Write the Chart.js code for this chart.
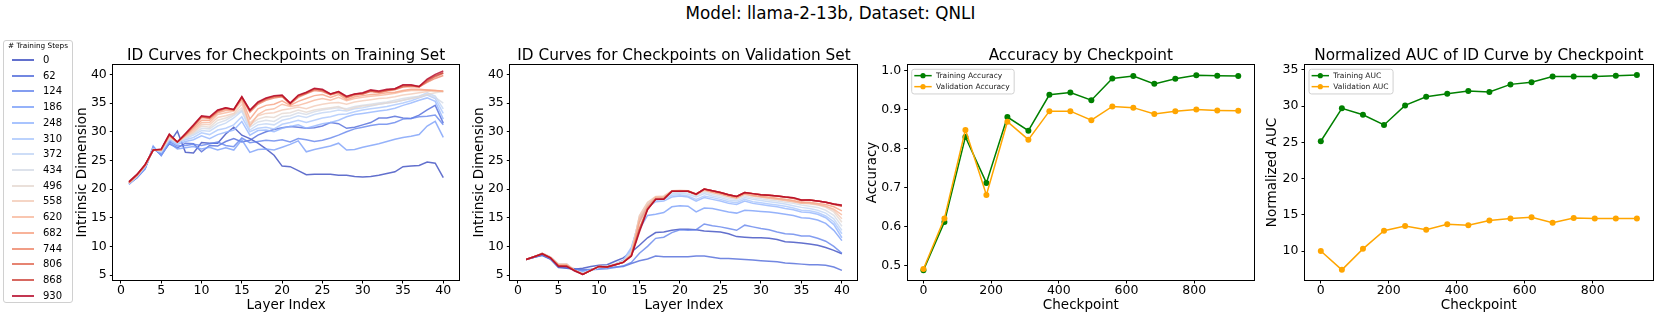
<!DOCTYPE html>
<html><head><meta charset="utf-8">
<script src="https://cdn.jsdelivr.net/npm/chart.js@4.4.1/dist/chart.umd.min.js"></script>
<style>
html,body{margin:0;padding:0;background:#fff}
body{width:1661px;height:332px;overflow:hidden;position:relative;font-family:"DejaVu Sans",sans-serif;color:#000}
canvas{position:absolute;top:0}
#sup{position:absolute;left:0;top:4px;width:1661px;text-align:center;font-size:16.8px;line-height:19px;white-space:nowrap}
#leg{position:absolute;left:3px;top:40px;width:70px;height:263px;border:1px solid #d0d0d0;border-radius:3px;box-sizing:border-box;background:#fff}
.lt{position:absolute;left:0;width:76px;text-align:center;font-size:7.3px;line-height:9px;white-space:nowrap}
.ll{position:absolute;left:12px;width:21.5px;height:2px}
.lx{position:absolute;left:43px;font-size:10px;line-height:12px;white-space:nowrap}
</style>
</head><body>
<div id="sup">Model: llama-2-13b, Dataset: QNLI</div>
<div id="leg"></div>
<canvas id="c1" width="400" height="332" style="left:60px"></canvas>
<canvas id="c2" width="402" height="332" style="left:460px"></canvas>
<canvas id="c3" width="396" height="332" style="left:862px"></canvas>
<canvas id="c4" width="403" height="332" style="left:1258px"></canvas>
<script>
// ---------------- data ----------------
const layers = [1,2,3,4,5,6,7,8,9,10,11,12,13,14,15,16,17,18,19,20,21,22,23,24,25,26,27,28,29,30,31,32,33,34,35,36,37,38,39,40];
const steps = [0,62,124,186,248,310,372,434,496,558,620,682,744,806,868,930];
const stepColors = ['#3b4cc0','#4f69d9','#6485ec','#7b9ff9','#93b5fe','#aac7fd','#c0d4f5','#d4dbe6','#e5d8d1','#f2cbb7','#f7b89c','#f6a081','#ee8468','#e0654f','#cd4239','#b40426'];

const idTicksX = [0,5,10,15,20,25,30,35,40];
const idTicksY = [5,10,15,20,25,30,35,40];
const ckptTicksX = [0,200,400,600,800];
const accTicksY = [0.5,0.6,0.7,0.8,0.9,1.0];
const aucTicksY = [10,15,20,25,30,35];

// ID curves on training set (one list per checkpoint)
const train0   = [21.0,22.0,23.6,27.3,25.9,28.0,30.1,26.4,26.3,28.1,28.0,28.0,29.6,30.8,29.4,28.8,28.0,27.0,25.9,24.0,23.9,23.2,22.5,22.6,22.6,22.6,22.4,22.4,22.2,22.1,22.2,22.4,22.7,23.0,23.9,24.0,24.1,24.7,24.5,22.0];
const train62  = [21.0,22.1,23.7,27.0,26.1,27.9,27.2,28.0,27.9,26.5,27.6,27.5,28.3,28.8,28.2,28.5,29.4,30.0,30.4,30.7,30.9,30.8,30.6,30.7,31.0,31.6,31.4,30.6,30.8,31.2,31.6,32.4,32.4,32.7,32.4,32.3,32.9,33.8,34.6,31.5];
const train124 = [20.9,22.1,23.6,27.2,26.0,28.3,27.5,27.6,27.8,27.6,27.9,28.2,27.6,27.4,28.9,28.1,28.3,28.5,28.4,28.6,28.2,28.8,28.6,28.3,28.5,28.9,29.4,30.0,30.5,30.8,31.1,31.3,31.3,31.6,32.2,32.3,32.6,32.7,32.9,31.2];
const train186 = [20.8,22.0,23.5,27.5,25.8,28.1,27.0,27.2,27.4,27.0,27.3,26.8,27.2,26.8,28.6,26.4,26.9,27.0,26.8,27.3,27.8,28.4,26.5,26.9,27.2,27.5,28.0,26.8,26.9,27.3,27.6,27.9,28.3,28.7,29.0,29.2,29.5,31.0,31.8,29.0];
const train248 = [20.9,22.2,23.8,27.0,26.3,28.5,27.8,28.3,28.6,29.3,28.8,29.5,29.9,30.3,31.8,29.4,30.2,30.3,30.0,30.6,30.9,31.2,30.6,31.0,31.4,31.6,32.0,32.6,33.0,33.2,33.4,33.6,33.8,34.1,34.6,35.0,35.5,35.9,35.3,32.2];
const train310 = [21.0,22.2,23.9,27.1,26.4,28.6,28.0,28.6,29.0,29.8,29.5,30.3,30.6,31.2,32.6,30.0,30.6,30.8,30.5,31.3,31.6,32.0,31.6,32.0,32.4,32.6,33.0,33.1,33.5,33.8,34.0,34.2,34.4,34.7,35.0,35.4,35.9,36.4,35.8,33.2];
const train372 = [21.0,22.3,24.0,27.0,26.5,28.8,28.1,28.8,29.4,30.2,30.1,31.0,31.5,32.4,33.6,30.3,31.2,31.4,31.2,32.0,32.3,32.8,32.5,33.0,33.3,33.5,33.8,33.6,34.0,34.2,34.5,34.8,35.0,35.2,35.5,35.8,36.2,36.8,36.2,34.0];
const train434 = [21.0,22.3,24.0,26.9,26.6,28.9,28.2,29.0,29.6,30.6,30.5,31.5,32.0,32.8,33.8,30.8,31.7,32.0,31.8,32.6,32.8,33.3,33.0,33.5,33.8,34.0,34.2,34.0,34.4,34.6,34.8,35.0,35.2,35.5,35.8,36.0,36.2,36.5,36.0,35.0];
const train496 = [21.0,22.3,24.0,26.8,26.7,29.0,28.2,29.1,29.8,31.0,30.8,32.0,32.4,33.0,34.2,31.2,32.2,32.6,32.5,33.2,33.3,33.8,33.4,33.8,34.0,34.2,34.4,33.8,34.2,34.5,34.6,34.8,35.0,35.2,35.5,35.8,36.0,36.5,36.8,37.0];
const train558 = [21.0,22.3,24.1,26.8,26.8,29.1,28.2,29.2,30.0,31.3,31.2,32.5,32.8,33.2,34.8,31.5,32.8,33.2,33.3,33.8,34.0,34.3,34.0,34.5,34.8,35.0,35.1,34.8,35.2,35.4,35.6,35.8,35.9,36.1,36.4,36.6,36.8,37.0,37.1,37.0];
const train620 = [21.1,22.4,24.1,26.8,26.8,29.2,28.2,29.3,30.3,31.6,31.6,33.0,33.3,33.6,35.4,31.0,33.0,33.8,34.0,34.8,34.4,34.6,35.0,35.5,35.8,35.5,36.0,35.4,35.8,36.0,36.2,36.3,36.5,36.7,37.0,37.2,37.2,37.3,37.2,37.0];
const train682 = [21.1,22.4,24.2,26.8,26.8,29.3,28.2,29.4,30.6,32.0,32.0,33.3,33.7,33.8,35.7,32.2,34.0,34.6,34.8,35.4,34.6,35.3,35.8,36.3,36.5,36.0,36.5,35.6,36.1,36.3,36.5,36.6,36.8,36.9,37.2,37.4,37.4,37.3,37.2,37.1];
const train744 = [21.2,22.5,24.2,26.8,26.9,29.4,28.2,29.5,30.9,32.5,32.3,33.5,34.0,33.8,35.9,33.4,34.8,35.5,35.9,36.1,34.8,36.0,36.6,37.2,37.0,36.4,36.8,35.9,36.4,36.6,37.0,36.8,37.1,37.3,37.8,37.9,37.8,38.6,39.3,39.8];
const train806 = [21.2,22.5,24.2,26.8,26.9,29.5,28.2,29.5,31.0,32.6,32.4,33.6,34.1,33.8,36.0,33.6,35.0,35.7,36.1,36.2,34.9,36.2,36.7,37.4,37.2,36.5,36.9,36.0,36.5,36.6,37.1,36.9,37.2,37.4,37.9,38.0,37.8,38.8,39.6,40.2];
const train868 = [21.2,22.5,24.2,26.8,26.9,29.5,28.2,29.6,31.1,32.7,32.5,33.7,34.2,33.9,36.1,33.7,35.1,35.8,36.2,36.3,35.0,36.3,36.8,37.5,37.3,36.6,37.0,36.1,36.6,36.7,37.2,37.0,37.3,37.5,38.1,38.1,37.9,39.0,39.8,40.3];
const train930 = [21.3,22.6,24.3,26.8,27.0,29.6,28.2,29.7,31.2,32.8,32.6,33.8,34.2,33.9,36.1,33.8,35.2,35.9,36.3,36.4,35.0,36.4,36.9,37.6,37.4,36.6,37.0,36.2,36.6,36.8,37.3,37.1,37.4,37.5,38.2,38.2,37.9,39.2,40.0,40.6];

// ID curves on validation set
const val0   = [7.7,8.1,8.5,7.8,6.3,6.2,6.0,6.2,6.5,6.7,6.8,7.4,8.0,9.0,10.2,11.5,12.4,12.5,12.8,13.0,13.0,12.9,12.7,12.6,12.5,12.2,11.7,11.6,11.5,11.5,11.4,11.2,10.8,10.7,10.6,10.4,10.2,9.8,9.3,8.7];
const val62  = [7.7,8.1,8.4,7.8,6.4,6.3,6.1,5.9,6.0,6.2,6.3,6.4,6.5,7.0,7.5,7.8,8.3,8.2,8.2,8.2,8.2,8.3,8.3,8.1,7.9,7.9,7.8,7.7,7.6,7.5,7.4,7.3,7.1,7.0,6.9,6.8,6.8,6.7,6.4,5.8];
const val124 = [7.7,8.1,8.6,7.9,6.5,6.4,5.9,5.8,5.9,6.0,6.1,6.3,6.6,7.2,8.8,10.0,11.4,11.6,12.4,12.9,12.8,12.9,13.9,13.6,13.4,13.1,12.8,13.7,13.4,13.1,12.9,12.5,12.2,12.1,11.8,11.8,11.4,10.9,10.0,8.8];
const val186 = [7.7,8.2,8.7,8.0,6.6,6.6,5.8,5.6,5.9,6.2,6.4,6.8,7.5,9.5,13.0,15.4,15.6,15.9,16.9,17.1,17.0,16.0,16.7,16.6,16.3,16.0,15.8,16.3,16.2,16.1,16.0,15.8,15.6,15.4,15.0,14.9,14.6,14.0,12.8,11.0];
const val248 = [7.7,8.2,8.8,8.1,6.8,6.8,5.7,5.4,5.8,6.3,6.5,6.9,7.6,9.8,14.5,16.8,17.8,17.9,18.6,18.8,18.6,17.9,18.5,18.2,17.9,17.5,17.3,17.9,17.5,17.3,17.1,16.9,16.6,16.4,16.0,15.9,15.6,15.0,13.8,11.5];
const val310 = [7.7,8.2,8.8,8.1,6.8,6.8,5.7,5.4,5.8,6.3,6.5,6.9,7.5,9.5,14.8,17.0,18.0,18.2,18.9,19.0,18.8,18.2,18.8,18.5,18.2,17.8,17.6,18.2,17.8,17.6,17.4,17.2,17.0,16.7,16.3,16.2,15.9,15.3,14.3,12.2];
const val372 = [7.7,8.2,8.8,8.1,6.9,6.9,5.8,5.3,5.8,6.4,6.5,6.9,7.4,9.2,15.0,17.3,18.3,18.4,19.2,19.3,19.1,18.6,19.2,18.8,18.5,18.1,17.9,18.5,18.2,18.0,17.8,17.6,17.4,17.1,16.8,16.6,16.3,15.8,14.8,12.8];
const val434 = [7.7,8.2,8.8,8.1,6.9,6.9,5.8,5.3,5.8,6.4,6.5,6.9,7.3,9.0,15.2,17.5,18.5,18.6,19.4,19.5,19.4,18.9,19.5,19.1,18.8,18.4,18.2,18.8,18.5,18.3,18.1,17.9,17.7,17.5,17.2,17.0,16.8,16.3,15.4,13.5];
const val496 = [7.7,8.2,8.8,8.1,6.9,6.9,5.8,5.2,5.8,6.5,6.5,6.9,7.3,8.8,15.3,17.6,18.6,18.7,19.6,19.7,19.6,19.1,19.8,19.4,19.1,18.7,18.5,19.1,18.8,18.6,18.4,18.2,18.0,17.8,17.5,17.4,17.2,16.8,16.0,14.2];
const val558 = [7.7,8.2,8.8,8.1,6.9,6.9,5.8,5.2,5.8,6.5,6.5,6.9,7.3,8.7,15.4,17.7,18.7,18.8,19.7,19.8,19.7,19.2,19.9,19.5,19.2,18.8,18.6,19.2,18.9,18.7,18.5,18.3,18.1,17.9,17.6,17.5,17.3,17.0,16.3,14.8];
const val620 = [7.7,8.2,8.8,8.1,6.8,6.8,5.8,5.2,5.8,6.5,6.4,6.8,7.2,8.6,14.8,17.2,18.6,18.6,19.6,19.7,19.6,19.0,19.8,19.4,19.1,18.7,18.4,19.1,18.8,18.6,18.4,18.2,18.0,17.8,17.5,17.5,17.3,17.0,16.5,15.5];
const val682 = [7.7,8.2,8.8,8.1,6.7,6.7,5.8,5.1,5.8,6.5,6.4,6.8,7.2,8.5,14.2,16.9,18.4,18.5,19.6,19.6,19.6,19.0,19.9,19.5,19.2,18.8,18.5,19.2,18.9,18.7,18.6,18.4,18.2,18.0,17.7,17.7,17.5,17.3,16.9,16.2];
const val744 = [7.7,8.2,8.7,8.0,6.6,6.6,5.8,5.1,5.8,6.5,6.4,6.8,7.2,8.4,13.2,16.6,18.2,18.3,19.6,19.6,19.6,19.1,20.0,19.7,19.4,19.0,18.7,19.4,19.2,19.0,18.9,18.8,18.6,18.4,18.0,18.1,17.9,17.7,17.4,17.1];
const val806 = [7.7,8.2,8.7,8.0,6.6,6.6,5.8,5.1,5.8,6.5,6.4,6.8,7.2,8.4,13.0,16.5,18.2,18.3,19.6,19.6,19.7,19.1,20.0,19.7,19.4,19.0,18.7,19.4,19.2,19.0,18.9,18.8,18.6,18.4,18.0,18.1,17.9,17.7,17.3,17.0];
const val868 = [7.7,8.2,8.7,8.0,6.6,6.5,5.8,5.1,5.8,6.5,6.4,6.8,7.2,8.3,12.8,16.5,18.2,18.2,19.6,19.6,19.6,19.1,20.0,19.7,19.4,19.0,18.7,19.4,19.2,19.0,18.9,18.8,18.6,18.5,18.1,18.1,17.9,17.7,17.4,17.1];
const val930 = [7.7,8.2,8.7,8.0,6.5,6.5,5.7,5.1,5.8,6.5,6.4,6.8,7.2,8.3,12.5,16.4,18.2,18.2,19.6,19.6,19.6,19.1,20.0,19.7,19.4,19.0,18.7,19.4,19.2,19.0,18.9,18.8,18.6,18.5,18.1,18.1,17.9,17.7,17.4,17.2];

// accuracy and AUC by checkpoint
const trainAcc = [0.488,0.612,0.830,0.712,0.881,0.846,0.938,0.944,0.924,0.980,0.986,0.966,0.979,0.988,0.987,0.986];
const valAcc   = [0.491,0.621,0.848,0.681,0.869,0.823,0.896,0.896,0.873,0.908,0.905,0.889,0.896,0.900,0.898,0.897];
const trainAUC = [25.15,29.7,28.8,27.4,30.1,31.3,31.7,32.1,31.95,33.0,33.3,34.1,34.1,34.1,34.2,34.3];
const valAUC   = [10.0,7.4,10.3,12.8,13.45,12.95,13.7,13.55,14.2,14.5,14.65,13.9,14.55,14.5,14.5,14.5];

const trainCurves = [train0,train62,train124,train186,train248,train310,train372,train434,train496,train558,train620,train682,train744,train806,train868,train930];
const valCurves = [val0,val62,val124,val186,val248,val310,val372,val434,val496,val558,val620,val682,val744,val806,val868,val930];

// ---------------- helpers ----------------
function rgba(hex,a){const n=parseInt(hex.slice(1),16);return `rgba(${n>>16},${(n>>8)&255},${n&255},${a})`;}
const LINE_ALPHA = 0.8;

// left legend (HTML)
(function(){
  const body=document.body;
  const t=document.createElement('div');t.className='lt';t.style.top='41px';t.textContent='# Training Steps';body.appendChild(t);
  steps.forEach((s,i)=>{
    const y=60+i*15.71;
    const l=document.createElement('div');l.className='ll';l.style.top=(y-1)+'px';l.style.background=rgba(stepColors[i],LINE_ALPHA);body.appendChild(l);
    const x=document.createElement('div');x.className='lx';x.style.top=(y-6)+'px';x.textContent=String(s);body.appendChild(x);
  });
})();

Chart.defaults.font.family='"DejaVu Sans", sans-serif';
Chart.defaults.color='#000';

// spines + inline legend (matplotlib style)
const framePlugin={
  id:'frame',
  afterDraw(chart,args,opts){
    const a=chart.chartArea, ctx=chart.ctx;
    if(opts && opts.legend){
      const ds=chart.data.datasets;
      ctx.save();
      ctx.font='7.5px "DejaVu Sans", sans-serif';
      let tw=0; ds.forEach(d=>{tw=Math.max(tw,ctx.measureText(d.label).width);});
      const x0=a.left+4, y0=a.top+4.3, x1=x0+24.3+tw+4.5, y1=a.top+29;
      const r=2.5;
      ctx.beginPath();
      ctx.moveTo(x0+r,y0);ctx.lineTo(x1-r,y0);ctx.quadraticCurveTo(x1,y0,x1,y0+r);ctx.lineTo(x1,y1-r);ctx.quadraticCurveTo(x1,y1,x1-r,y1);
      ctx.lineTo(x0+r,y1);ctx.quadraticCurveTo(x0,y1,x0,y1-r);ctx.lineTo(x0,y0+r);ctx.quadraticCurveTo(x0,y0,x0+r,y0);ctx.closePath();
      ctx.fillStyle='rgba(255,255,255,0.8)';ctx.fill();ctx.strokeStyle='#d0d0d0';ctx.lineWidth=1;ctx.stroke();
      ds.forEach((d,i)=>{
        const y=a.top+10.7+i*11;
        ctx.strokeStyle=d.borderColor;ctx.lineWidth=1.5;ctx.beginPath();ctx.moveTo(x0+2.6,y);ctx.lineTo(x0+20,y);ctx.stroke();
        ctx.fillStyle=d.borderColor;ctx.beginPath();ctx.arc(x0+11.3,y,2.6,0,Math.PI*2);ctx.fill();
        ctx.fillStyle='#222';ctx.textBaseline='middle';ctx.textAlign='left';ctx.fillText(d.label,x0+24.3,y);
      });
      ctx.restore();
    }
    ctx.save();ctx.strokeStyle='#000';ctx.lineWidth=1;
    ctx.strokeRect(Math.round(a.left)+0.5-1,Math.round(a.top)+0.5-1,Math.round(a.right-a.left)+1,Math.round(a.bottom-a.top)+1);
    ctx.restore();
  }
};

function makeChart(id,cfg){
  const tickFont={size:12.5};
  const grid={display:true,drawOnChartArea:false,drawTicks:true,tickLength:3.5,color:'#000',lineWidth:1};
  return new Chart(document.getElementById(id),{
    type:'line',
    data:{labels:cfg.labels,datasets:cfg.datasets},
    options:{
      responsive:false,animation:false,events:[],
      layout:{padding:{top:46.6,left:0,right:cfg.rightPad,bottom:0}},
      plugins:{
        title:{display:true,text:cfg.title,fullSize:false,font:{size:15.3,weight:'normal',lineHeight:1.2},padding:{top:0,bottom:0},color:'#000'},
        legend:{display:false},
        tooltip:{enabled:false},
        frame:{legend:!!cfg.legend}
      },
      scales:{
        x:{type:'linear',min:cfg.xmin,max:cfg.xmax,
           afterFit(s){s.height=52;},
           afterBuildTicks(s){s.ticks=cfg.xticks.map(v=>({value:v}));},
           ticks:{font:tickFont,padding:0,maxRotation:0,autoSkip:false,color:'#000'},
           grid:grid,border:{display:false},
           title:{display:true,text:cfg.xtitle,font:{size:13.5,lineHeight:1.2},padding:{top:0,bottom:18},color:'#000'}},
        y:{type:'linear',min:cfg.ymin,max:cfg.ymax,
           afterFit(s){s.width=cfg.yW;},
           afterBuildTicks(s){s.ticks=cfg.yticks.map(v=>({value:v}));},
           ticks:{font:tickFont,padding:3,autoSkip:false,color:'#000',callback:cfg.yfmt||(v=>String(v))},
           grid:grid,border:{display:false},
           title:{display:true,text:cfg.ytitle,font:{size:13.5,lineHeight:1.2},padding:{top:cfg.yTitlePad,bottom:0},color:'#000'}}
      }
    },
    plugins:[framePlugin]
  });
}

function idDatasets(curves){
  return curves.map((d,i)=>({label:String(steps[i]),data:d,borderColor:rgba(stepColors[i],LINE_ALPHA),borderWidth:1.5,pointRadius:0,tension:0,fill:false,order:curves.length-1-i}));
}

makeChart('c1',{labels:layers,datasets:idDatasets(trainCurves),title:'ID Curves for Checkpoints on Training Set',
  xmin:-0.95,xmax:41.95,ymin:4.13,ymax:41.65,xticks:idTicksX,yticks:idTicksY,xtitle:'Layer Index',ytitle:'Intrinsic Dimension',
  yW:53.3,yTitlePad:14.4,rightPad:400-53.3-345.7});
makeChart('c2',{labels:layers,datasets:idDatasets(valCurves),title:'ID Curves for Checkpoints on Validation Set',
  xmin:-0.95,xmax:41.95,ymin:4.13,ymax:41.65,xticks:idTicksX,yticks:idTicksY,xtitle:'Layer Index',ytitle:'Intrinsic Dimension',
  yW:50.3,yTitlePad:11.1,rightPad:402-50.3-347.4});

function pairDatasets(l1,d1,l2,d2){
  return [
    {label:l1,data:d1,borderColor:'#008000',backgroundColor:'#008000',borderWidth:1.5,pointRadius:3,pointBorderWidth:0,pointBackgroundColor:'#008000',tension:0,order:1},
    {label:l2,data:d2,borderColor:'#ffa500',backgroundColor:'#ffa500',borderWidth:1.5,pointRadius:3,pointBorderWidth:0,pointBackgroundColor:'#ffa500',tension:0,order:0}
  ];
}
makeChart('c3',{labels:steps,datasets:pairDatasets('Training Accuracy',trainAcc,'Validation Accuracy',valAcc),title:'Accuracy by Checkpoint',
  xmin:-46.5,xmax:976.5,ymin:0.463,ymax:1.0145,xticks:ckptTicksX,yticks:accTicksY,xtitle:'Checkpoint',ytitle:'Accuracy',
  yfmt:v=>v.toFixed(1),yW:45.7,yTitlePad:2.1,rightPad:396-45.7-348.3,legend:true});
makeChart('c4',{labels:steps,datasets:pairDatasets('Training AUC',trainAUC,'Validation AUC',valAUC),title:'Normalized AUC of ID Curve by Checkpoint',
  xmin:-46.5,xmax:976.5,ymin:6.0,ymax:35.68,xticks:ckptTicksX,yticks:aucTicksY,xtitle:'Checkpoint',ytitle:'Normalized AUC',
  yW:47,yTitlePad:6.7,rightPad:403-47-347.7,legend:true});
</script>
</body></html>
